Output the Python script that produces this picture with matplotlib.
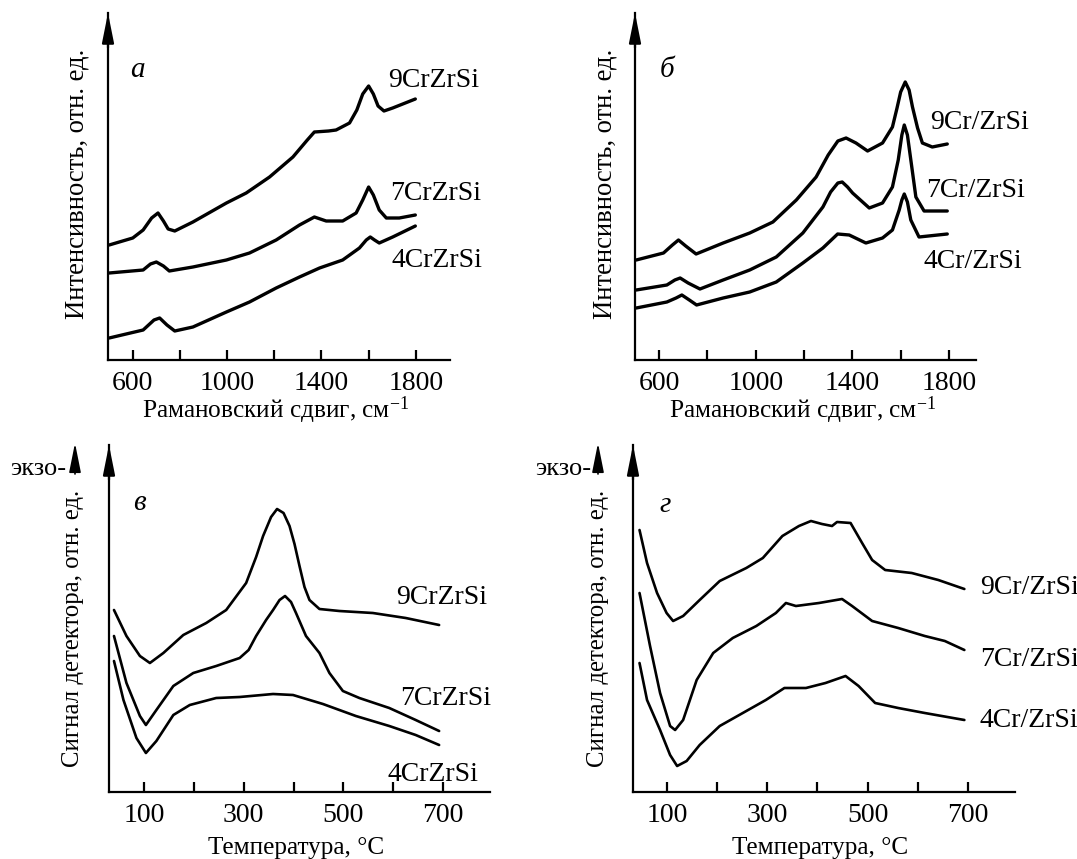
import matplotlib.pyplot as plt
from matplotlib.patches import FancyArrowPatch

plt.rcParams['font.family'] = ['Liberation Serif', 'DejaVu Serif']
plt.rcParams['font.size'] = 20
plt.rcParams['mathtext.fontset'] = 'custom'
plt.rcParams['mathtext.rm'] = 'Liberation Serif'
plt.rcParams['mathtext.it'] = 'Liberation Serif:italic'

# --- Raman, panel а (CrZrSi) ---
ra_x9 = [500, 600, 644, 680, 707, 730, 750, 778, 855, 997, 1081, 1180, 1279, 1340, 1370, 1430, 1462, 1519, 1550, 1575, 1600, 1620, 1640, 1665, 1702, 1798]
ra_y9 = [115, 122, 130, 142, 147, 139, 131, 129, 138, 157, 167, 183, 203, 220, 228, 229, 230, 237, 250, 266, 274, 266, 254, 249, 252, 261]
ra_x7 = [500, 644, 675, 700, 730, 755, 855, 997, 1095, 1208, 1307, 1370, 1420, 1490, 1547, 1575, 1600, 1620, 1645, 1675, 1730, 1798]
ra_y7 = [87, 90, 96, 98, 94, 89, 93, 100, 107, 120, 135, 143, 139, 139, 147, 160, 173, 165, 150, 142, 142, 145]
ra_x4 = [500, 644, 690, 714, 745, 778, 855, 997, 1095, 1208, 1307, 1392, 1490, 1561, 1590, 1607, 1625, 1645, 1702, 1798]
ra_y4 = [22, 30, 40, 42, 35, 29, 33, 48, 58, 72, 83, 92, 100, 112, 120, 123, 120, 117, 123, 134]

# --- Raman, panel б (Cr/ZrSi) ---
rb_x9 = [505, 618, 655, 680, 710, 753, 865, 975, 1071, 1168, 1250, 1300, 1340, 1374, 1415, 1463, 1525, 1566, 1585, 1600, 1619, 1635, 1649, 1670, 1690, 1731, 1793]
rb_y9 = [100, 107, 115, 120, 114, 106, 117, 127, 138, 160, 183, 205, 219, 222, 217, 209, 217, 233, 252, 268, 278, 270, 253, 232, 217, 213, 216]
rb_x7 = [505, 632, 665, 687, 720, 769, 865, 975, 1085, 1195, 1278, 1310, 1340, 1358, 1380, 1401, 1470, 1525, 1566, 1590, 1605, 1615, 1628, 1645, 1663, 1697, 1793]
rb_y7 = [70, 75, 80, 82, 77, 71, 80, 90, 103, 127, 153, 168, 177, 178, 173, 167, 152, 157, 173, 200, 225, 235, 225, 195, 163, 149, 149]
rb_x4 = [505, 632, 670, 694, 725, 755, 865, 975, 1085, 1195, 1278, 1339, 1387, 1456, 1525, 1566, 1594, 1605, 1615, 1628, 1642, 1676, 1793]
rb_y4 = [52, 58, 62, 65, 60, 55, 62, 68, 78, 97, 112, 126, 125, 117, 122, 130, 150, 160, 166, 158, 140, 123, 126]

# --- TPR, panel в (CrZrSi) ---
tc_x9 = [40, 65, 92, 112, 139, 179, 225, 265, 305, 325, 339, 355, 367, 380, 392, 402, 412, 422, 432, 452, 492, 559, 625, 692]
tc_y9 = [182, 156, 136, 129, 139, 157, 169, 182, 209, 235, 256, 275, 283, 279, 266, 248, 226, 205, 192, 183, 181, 179, 174, 167]
tc_x7 = [40, 65, 92, 104, 125, 159, 199, 245, 292, 310, 325, 345, 359, 372, 383, 395, 405, 425, 452, 472, 499, 532, 592, 645, 692]
tc_y7 = [156, 109, 76, 67, 82, 106, 119, 126, 134, 142, 156, 172, 182, 192, 196, 190, 179, 156, 139, 119, 101, 94, 84, 72, 61]
tc_x4 = [40, 59, 85, 104, 125, 159, 192, 245, 292, 359, 399, 459, 525, 592, 645, 692]
tc_y4 = [131, 92, 54, 39, 51, 77, 87, 94, 95, 98, 97, 88, 76, 66, 57, 47]

# --- TPR, panel г (Cr/ZrSi) ---
td_x9 = [45, 60, 80, 99, 112, 132, 165, 205, 258, 291, 330, 363, 387, 409, 429, 439, 466, 489, 509, 535, 588, 641, 693]
td_y9 = [262, 229, 199, 179, 171, 176, 192, 211, 224, 234, 256, 266, 271, 268, 266, 270, 269, 249, 232, 222, 219, 212, 203]
td_x7 = [45, 66, 86, 106, 116, 132, 159, 192, 231, 278, 317, 337, 357, 403, 449, 469, 509, 561, 614, 654, 693]
td_y7 = [199, 146, 99, 66, 62, 72, 112, 139, 154, 166, 179, 189, 186, 189, 193, 186, 171, 164, 156, 151, 142]
td_x4 = [45, 60, 86, 106, 120, 139, 165, 205, 251, 297, 334, 377, 416, 456, 482, 515, 561, 614, 693]
td_y4 = [129, 92, 62, 37, 26, 31, 47, 66, 79, 92, 104, 104, 109, 116, 106, 89, 84, 79, 72]

raman_major = [600, 1000, 1400, 1800]
raman_minor = [800, 1200, 1600]
tpr_major = [100, 300, 500, 700]
tpr_minor = [200, 400, 600]

W, H = 1077, 859
fig = plt.figure(figsize=(W / 100, H / 100), dpi=100)


def px_text(x, y, s, **kw):
    fig.text(x / W, 1 - y / H, s, **kw)


def make_ax(l, r, t, b):
    return fig.add_axes([l / W, 1 - b / H, (r - l) / W, (b - t) / H])


def style(ax, xlim, major, minor, xlabel, ylabel, lab_x, ylab_y, xlab_y, ylab_size):
    ax.set_xlim(*xlim)
    ax.set_ylim(0, 347)
    for s in ['top', 'right']:
        ax.spines[s].set_visible(False)
    for s in ['left', 'bottom']:
        ax.spines[s].set_linewidth(1.6)
    ax.set_yticks([])
    ax.set_xticks(major)
    ax.set_xticks(minor, minor=True)
    ax.tick_params(axis='x', which='both', direction='in', length=7, width=1.6, pad=8, labelsize=20)
    ax.annotate('', xy=(0, 1.0), xytext=(0, 0.9), xycoords='axes fraction',
                arrowprops=dict(arrowstyle='-|>,head_width=0.18,head_length=0.9',
                                color='k', lw=1.6, shrinkA=0, shrinkB=0))
    ax.text(lab_x, ylab_y, ylabel, rotation=90, ha='center', va='center',
            transform=ax.transAxes, fontsize=ylab_size)
    ax.text(0.49, xlab_y, xlabel, ha='center', va='center',
            transform=ax.transAxes, fontsize=18.2)


# panel а
ax1 = make_ax(108, 450, 13, 360)
for xs, ys in [(ra_x9, ra_y9), (ra_x7, ra_y7), (ra_x4, ra_y4)]:
    ax1.plot(xs, ys, color='k', lw=2.4, solid_joinstyle='round', solid_capstyle='round')
style(ax1, (495, 1945), raman_major, raman_minor,
      'Рамановский сдвиг, см$^{-1}$', 'Интенсивность, отн. ед.', -0.091, 0.507, -0.145, 19.2)
px_text(137, 70, 'а', style='italic', ha='center', va='center', fontsize=21)
px_text(388, 87, '9CrZrSi', ha='left', va='baseline')
px_text(390, 200, '7CrZrSi', ha='left', va='baseline')
px_text(391, 267, '4CrZrSi', ha='left', va='baseline')

# panel б
ax2 = make_ax(635, 976, 13, 360)
for xs, ys in [(rb_x9, rb_y9), (rb_x7, rb_y7), (rb_x4, rb_y4)]:
    ax2.plot(xs, ys, color='k', lw=2.4, solid_joinstyle='round', solid_capstyle='round')
style(ax2, (500, 1912), raman_major, raman_minor,
      'Рамановский сдвиг, см$^{-1}$', 'Интенсивность, отн. ед.', -0.088, 0.507, -0.145, 19.2)
px_text(667, 70, 'б', style='italic', ha='center', va='center', fontsize=21)
px_text(930, 129, '9Cr/ZrSi', ha='left', va='baseline')
px_text(926, 197, '7Cr/ZrSi', ha='left', va='baseline')
px_text(923, 268, '4Cr/ZrSi', ha='left', va='baseline')

# panel в
ax3 = make_ax(109, 490, 445, 792)
for xs, ys in [(tc_x9, tc_y9), (tc_x7, tc_y7), (tc_x4, tc_y4)]:
    ax3.plot(xs, ys, color='k', lw=1.9, solid_joinstyle='round', solid_capstyle='round')
style(ax3, (30, 794), tpr_major, tpr_minor,
      'Температура, °C', 'Сигнал детектора, отн. ед.', -0.094, 0.47, -0.16, 17.8)
px_text(139, 503, 'в', style='italic', ha='center', va='center', fontsize=21)
px_text(396, 604, '9CrZrSi', ha='left', va='baseline')
px_text(400, 705, '7CrZrSi', ha='left', va='baseline')
px_text(387, 781, '4CrZrSi', ha='left', va='baseline')

# panel г
ax4 = make_ax(633, 1015, 445, 792)
for xs, ys in [(td_x9, td_y9), (td_x7, td_y7), (td_x4, td_y4)]:
    ax4.plot(xs, ys, color='k', lw=1.9, solid_joinstyle='round', solid_capstyle='round')
style(ax4, (32, 794), tpr_major, tpr_minor,
      'Температура, °C', 'Сигнал детектора, отн. ед.', -0.092, 0.47, -0.16, 17.8)
px_text(665, 505, 'г', style='italic', ha='center', va='center', fontsize=21)
px_text(980, 594, '9Cr/ZrSi', ha='left', va='baseline')
px_text(980, 666, '7Cr/ZrSi', ha='left', va='baseline')
px_text(980, 727, '4Cr/ZrSi', ha='left', va='baseline')

# экзо- arrows
for tx, axx in [(38, 75), (563, 598)]:
    px_text(tx, 469, 'экзо-', ha='center', va='center', fontsize=19)
    fig.add_artist(FancyArrowPatch(
        (axx / W, 1 - 474 / H), (axx / W, 1 - 443 / H), transform=fig.transFigure,
        arrowstyle='-|>,head_width=0.18,head_length=0.9', mutation_scale=20,
        color='k', lw=1.2, shrinkA=0, shrinkB=0))

fig.savefig('out.png', dpi=100)
